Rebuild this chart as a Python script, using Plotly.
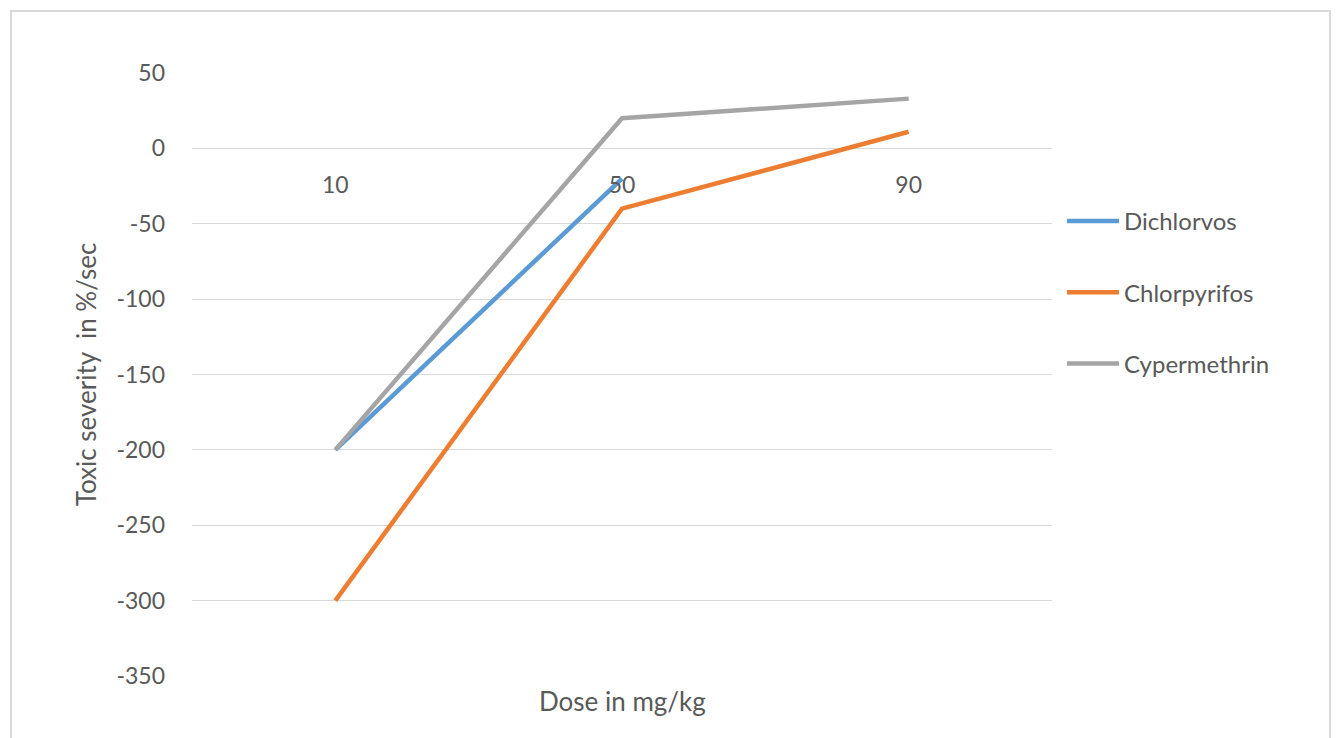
import plotly.graph_objects as go

doses = ["10", "50", "90"]
dichlorvos = [-200, -20, None]
chlorpyrifos = [-300, -40, 11]
cypermethrin = [-200, 20, 33]
y_ticks = [50, 0, -50, -100, -150, -200, -250, -300, -350]

series = [
    ("Dichlorvos", dichlorvos, "#5B9BD5"),
    ("Chlorpyrifos", chlorpyrifos, "#ED7D31"),
    ("Cypermethrin", cypermethrin, "#A5A5A5"),
]

W, H = 1341, 738
L, R, T, B = 192, 289, 73, 62
ymin, ymax = -350, 50
txt = "#595959"
font = "Lato, 'Open Sans', sans-serif"

fig = go.Figure()
for i, (name, vals, col) in enumerate(series):
    fig.add_trace(go.Scatter(
        x=doses, y=vals, name=name, mode="lines",
        line=dict(color=col, width=4.5),
        legendgroup=f"g{i}", connectgaps=False,
    ))

pw = W - L - R
ph = H - T - B
def px_x(p):
    return (p - L) / pw
def px_y(p):
    return (H - B - p) / ph

fig.update_layout(
    width=W, height=H,
    margin=dict(l=L, r=R, t=T, b=B, pad=0),
    paper_bgcolor="white", plot_bgcolor="white",
    font=dict(family=font, color=txt, size=23),
    showlegend=True,
    legend=dict(
        x=px_x(1062), xanchor="left",
        y=px_y(199), yanchor="top",
        tracegroupgap=37,
        font=dict(size=24, color=txt),
        bgcolor="rgba(0,0,0,0)",
        itemwidth=52,
    ),
    xaxis=dict(
        type="category", categoryorder="array", categoryarray=doses,
        range=[-0.5, 2.5],
        anchor="free",
        position=(0 - ymin) / (ymax - ymin),
        showgrid=False, zeroline=False, showline=False,
        ticks="", ticklabelstandoff=21,
        tickfont=dict(size=23, color=txt),
    ),
    yaxis=dict(
        range=[ymin, ymax],
        tickvals=y_ticks,
        ticktext=[str(v) for v in y_ticks],
        showgrid=True, gridcolor="#D9D9D9", gridwidth=1,
        zeroline=True, zerolinecolor="#D9D9D9", zerolinewidth=1,
        showline=False, ticks="",
        ticklabelstandoff=26,
        tickfont=dict(size=23, color=txt),
        title=dict(text="Toxic severity  in %/sec", font=dict(size=26, color=txt), standoff=12),
    ),
    annotations=[
        dict(text="Dose in mg/kg", xref="paper", yref="paper",
             x=0.5, y=px_y(701), xanchor="center", yanchor="middle",
             showarrow=False, font=dict(size=26, color=txt)),
    ],
    shapes=[
        dict(type="rect", xref="paper", yref="paper",
             x0=px_x(11), x1=px_x(1330), y0=px_y(760), y1=px_y(11),
             line=dict(color="#D9D9D9", width=2), fillcolor="rgba(0,0,0,0)",
             layer="below"),
    ],
)

fig.write_html("out.html")
